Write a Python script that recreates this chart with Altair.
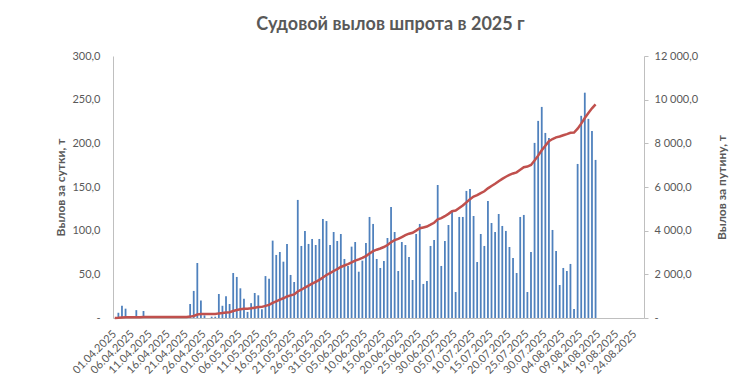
import altair as alt
import pandas as pd

# Daily catch, t (01.04.2025 .. 13.08.2025)
daily_catch = [
    0, 6, 14, 10.7, 0, 0, 9, 0, 8, 0,
    0, 0, 0, 0, 0, 0, 0, 0, 0, 0,
    0, 16, 31, 63, 20, 3, 0, 1.5, 1.5, 27.5,
    14, 25, 16, 51.5, 47, 34, 22, 7, 17, 28.6,
    26, 10, 48, 45, 88.6, 72.2, 75.6, 64.5, 84.8, 49.3,
    41.2, 135.2, 82.5, 99.7, 84.8, 90.5, 83.6, 90.5, 113.4, 111,
    83.6, 98.5, 88.2, 96.2, 67.6, 59.6, 81.7, 87, 53, 65.7,
    86, 115.7, 107.7, 67.6, 57.3, 65.3, 91.6, 127, 98.5, 53.8,
    87, 83.6, 69.9, 43.5, 96.2, 107.7, 39, 42.4, 82.5, 89.3,
    152.3, 59.6, 88.2, 106.5, 121.4, 29.8, 115.7, 115.7, 145.5, 147.8,
    116.8, 64.1, 96.2, 82.5, 134, 108.8, 98.5, 119.1, 105.4, 99.7,
    81.3, 68.7, 51.5, 115.7, 118, 29.8, 75.6, 200.5, 225.7, 241.7,
    211.9, 206.2, 100.8, 76.7, 37.8, 57.3, 53.8, 61.9, 10.3, 176.4,
    231.5, 258, 228, 214, 181,
]

n_days = 148
dates = pd.date_range("2025-04-01", periods=n_days, freq="D").strftime("%d.%m.%Y").tolist()
tick_dates = dates[::5]

left_ticks = [0, 50, 100, 150, 200, 250, 300]
right_ticks = [0, 2000, 4000, 6000, 8000, 10000, 12000]

df = pd.DataFrame({
    "date": dates[:len(daily_catch)],
    "catch": daily_catch,
    "order": list(range(len(daily_catch))),
})

FONT = "Lato"
TXT = "#595959"
AXC = "#BFBFBF"

label_expr = "datum.value == 0 ? '-' : replace(replace(format(datum.value, ',.1f'), ',', ' '), '.', ',')"

x_enc = alt.X(
    "date:O",
    sort=None,
    scale=alt.Scale(domain=dates, paddingInner=0.5, paddingOuter=0.25),
    axis=alt.Axis(
        values=tick_dates, labelAngle=-45, labelAlign="right", labelBaseline="middle",
        ticks=False, domainColor=AXC, labelColor=TXT, labelFont=FONT, labelFontSize=11,
        labelPadding=14, title=None, grid=False,
    ),
)

base = alt.Chart(df)

bars = base.mark_bar(color="#4F81BD").encode(
    x=x_enc,
    y=alt.Y(
        "catch:Q",
        scale=alt.Scale(domain=[0, 300], nice=False),
        axis=alt.Axis(
            values=left_ticks, labelExpr=label_expr, title="Вылов за сутки, т",
            grid=False, ticks=False, domainColor=AXC, labelColor=TXT, labelFont=FONT,
            labelFontSize=11, labelPadding=13, titleColor=TXT, titleFont=FONT,
            titleFontSize=12, titleFontWeight="bold", titlePadding=4,
        ),
    ),
)

line = base.transform_window(
    cum="sum(catch)", sort=[alt.SortField("order")], frame=[None, 0]
).mark_line(color="#C0504D", strokeWidth=2.5).encode(
    x=x_enc,
    y=alt.Y(
        "cum:Q",
        scale=alt.Scale(domain=[0, 12000], nice=False),
        axis=alt.Axis(
            orient="right", values=right_ticks, labelExpr=label_expr,
            title="Вылов за путину, т", titleAngle=270, grid=False, ticks=True, tickSize=4,
            tickColor=AXC, domainColor=AXC, labelColor=TXT, labelFont=FONT, labelFontSize=11,
            labelPadding=6, titleColor=TXT, titleFont=FONT, titleFontSize=12,
            titleFontWeight="bold", titlePadding=31,
        ),
    ),
)

chart = alt.layer(bars, line).resolve_scale(y="independent").properties(
    width=531,
    height=262,
    autosize=alt.AutoSizeParams(type="none"),
    padding={"left": 105, "top": 48, "right": 85, "bottom": 59},
    title=alt.TitleParams(
        "Судовой вылов шпрота в 2025 г", font=FONT, fontSize=18, fontWeight="bold",
        color=TXT, anchor="middle", offset=16, dx=12,
    ),
).configure_view(stroke=None)

chart.save("out.html", embed_options={"renderer": "svg", "actions": False})
